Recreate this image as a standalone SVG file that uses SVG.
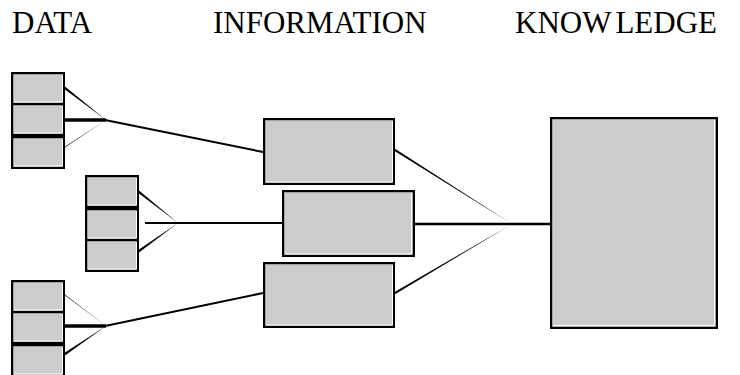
<svg xmlns="http://www.w3.org/2000/svg" width="740" height="375" viewBox="0 0 740 375">
  <style>
    .title { font-family: "Liberation Serif", "Times New Roman", serif; font-size: 31px; fill: #000; }
    .box { fill: #cccccc; stroke: #000; stroke-width: 2.2; }
    .hl { fill: none; stroke: #ffffff; stroke-width: 1; }
    .line { stroke: #000; fill: none; }
    .taper { fill: #000; stroke: none; }
    .taper-thin { fill: #333; stroke: none; }
  </style>
  <defs>
    <!-- small record box: outer 54 x 33, with white inner highlight on the right and bottom -->
    <g id="cell">
      <rect class="box" x="1.1" y="1.1" width="51.8" height="30.8"/>
      <polyline class="hl" points="3,30 51.5,30 51.5,3"/>
    </g>
  </defs>

  <rect width="740" height="375" fill="#ffffff"/>

  <!-- column headings -->
  <g id="headings">
    <text class="title" x="12" y="33">DATA</text>
    <text class="title" x="213" y="33">INFORMATION</text>
    <text class="title" x="515" y="33">KNOW<tspan dx="4">LEDGE</tspan></text>
  </g>

  <!-- connectors -->
  <g id="connectors">
    <!-- data stack 1 -->
    <polygon class="taper" points="65,86.5 65,89.5 106,120"/>
    <line class="line" x1="65" y1="120" x2="106" y2="120" stroke-width="3.5"/>
    <polygon class="taper-thin" points="65,146.4 65,147.6 106,120"/>
    <line class="line" x1="105" y1="120" x2="263" y2="152" stroke-width="2"/>
    <!-- data stack 2 -->
    <polygon class="taper" points="139,190.5 139,193.5 178,223"/>
    <polygon class="taper" points="139,249.5 139,252.5 178,223"/>
    <line class="line" x1="145" y1="223" x2="283" y2="223" stroke-width="2"/>
    <!-- data stack 3 -->
    <polygon class="taper-thin" points="65,294.4 65,295.6 106,326"/>
    <line class="line" x1="65" y1="326" x2="106" y2="326" stroke-width="3.5"/>
    <polygon class="taper" points="65,352.5 65,355.5 106,326"/>
    <line class="line" x1="105" y1="326" x2="263" y2="293" stroke-width="2"/>
    <!-- information to knowledge -->
    <polygon class="taper" points="395,148.8 395,151.2 512,224"/>
    <polygon class="taper" points="395,291.8 395,294.2 512,224"/>
    <line class="line" x1="415" y1="224" x2="550" y2="224" stroke-width="2.5"/>
  </g>

  <!-- data record stacks -->
  <g id="data-stack-1">
    <use href="#cell" x="11" y="72"/>
    <use href="#cell" x="11" y="103"/>
    <use href="#cell" x="11" y="136"/>
  </g>
  <g id="data-stack-2">
    <use href="#cell" x="85" y="175"/>
    <use href="#cell" x="85" y="208"/>
    <use href="#cell" x="85" y="239"/>
  </g>
  <g id="data-stack-3">
    <use href="#cell" x="11" y="280"/>
    <use href="#cell" x="11" y="311"/>
    <use href="#cell" x="11" y="344"/>
  </g>

  <!-- information boxes -->
  <g id="info-1">
    <rect class="box" x="264.1" y="119.1" width="129.8" height="64.8"/>
    <polyline class="hl" points="266,182 392.5,182 392.5,121"/>
  </g>
  <g id="info-2">
    <rect class="box" x="283.1" y="191.1" width="130.8" height="64.8"/>
    <polyline class="hl" points="285,254 411.5,254 411.5,193"/>
  </g>
  <g id="info-3">
    <rect class="box" x="264.1" y="263.1" width="129.8" height="63.8"/>
    <polyline class="hl" points="266,325 392.5,325 392.5,265"/>
  </g>

  <!-- knowledge box -->
  <g id="knowledge">
    <rect class="box" x="551.1" y="118.1" width="165.8" height="209.8"/>
    <polyline class="hl" points="553,325.5 714.5,325.5 714.5,120"/>
  </g>
</svg>
